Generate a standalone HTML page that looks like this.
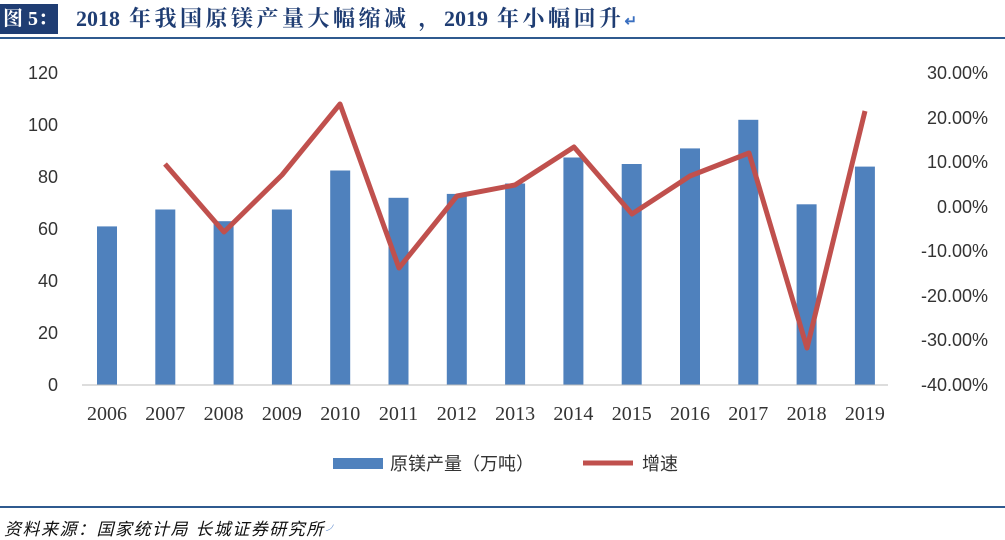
<!DOCTYPE html>
<html><head><meta charset="utf-8"><style>
body{margin:0;background:#fff;width:1005px;height:540px;overflow:hidden;position:relative;font-family:"Liberation Sans","Noto Sans CJK SC",sans-serif}
.hd{position:absolute;left:0;top:4px;width:58px;height:30px;background:#1f3d73;color:#fff;font:bold 20px "Liberation Serif","Noto Serif CJK SC",serif;line-height:30px;padding-left:3px;box-sizing:border-box;white-space:nowrap;overflow:hidden}
.tt{position:absolute;left:76px;top:4px;color:#1f3d73;font:bold 22px "Liberation Serif","Noto Serif CJK SC",serif;line-height:30px;white-space:nowrap;letter-spacing:3.5px}
.tt b{letter-spacing:0}
.ln{position:absolute;left:0;width:1005px;height:2px;background:#2f5a8f}
.ft{position:absolute;left:4px;top:515px;font:italic 17px "Liberation Sans","Noto Sans CJK SC",sans-serif;color:#111;letter-spacing:1.5px;white-space:nowrap}
</style></head><body>
<div class="hd">图 5：</div>
<div class="tt"><b>2018</b> 年我国原镁产量大幅缩减 ，<b>2019</b> 年小幅回升<span style="color:#3a6fc0;font-size:15px">↵</span></div>
<div class="ln" style="top:37px"></div>
<div class="ln" style="top:506px"></div>
<div class="ft">资料来源：国家统计局 长城证券研究所<span style="color:#3a6fc0;font-size:12px">╯</span></div>
<svg width="1005" height="540" style="position:absolute;left:0;top:0">
<g font-family="Liberation Sans,sans-serif" font-size="18" fill="#333" text-anchor="end">
<text x="58" y="79">120</text><text x="58" y="131">100</text><text x="58" y="183">80</text><text x="58" y="235">60</text><text x="58" y="287">40</text><text x="58" y="339">20</text><text x="58" y="391">0</text>
</g>
<g font-family="Liberation Sans,sans-serif" font-size="18" fill="#333" text-anchor="end">
<text x="988" y="79">30.00%</text><text x="988" y="124">20.00%</text><text x="988" y="168">10.00%</text><text x="988" y="213">0.00%</text><text x="988" y="257">-10.00%</text><text x="988" y="302">-20.00%</text><text x="988" y="346">-30.00%</text><text x="988" y="391">-40.00%</text>
</g>
<g fill="#4f81bd" id="bars"></g>
<line x1="82" y1="385" x2="888" y2="385" stroke="#bbb" stroke-width="1"/>
<polyline fill="none" stroke="#c0504d" stroke-width="5" stroke-linejoin="round" points="165,164 224,232 282,175 340,104 399,268 457,196 515,185 574,147 632,214 690,176 749,153 807,348 865,111"/>
<g font-family="Liberation Serif,serif" font-size="20" fill="#333" text-anchor="middle" id="xl"></g>
<rect x="333" y="458" width="50" height="11" fill="#4f81bd"/>
<text x="390" y="470" font-size="18" fill="#333" font-family="Liberation Sans,Noto Sans CJK SC,sans-serif">原镁产量（万吨）</text>
<line x1="583" y1="463" x2="633" y2="463" stroke="#c0504d" stroke-width="5"/>
<text x="642" y="470" font-size="18" fill="#333" font-family="Liberation Sans,Noto Sans CJK SC,sans-serif">增速</text>
</svg>
<script>
var v=[61,67.5,63,67.5,82.5,72,73.5,77.5,87.5,85,91,102,69.5,84],b='',t='';
for(var i=0;i<14;i++){var c=107+i*58.3,h=v[i]*2.6;b+='<rect x="'+(c-10)+'" y="'+(385-h)+'" width="20" height="'+h+'"/>';t+='<text x="'+c+'" y="420">'+(2006+i)+'</text>';}
document.getElementById('bars').innerHTML=b;document.getElementById('xl').innerHTML=t;
</script>
</body></html>
